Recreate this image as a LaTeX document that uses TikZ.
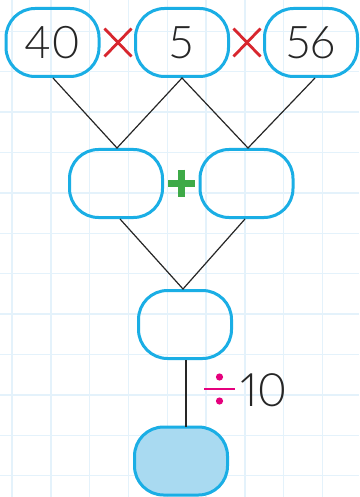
\documentclass[tikz,border=0pt]{standalone}
\usepackage{fontspec}
\setmainfont{Lato}[UprightFont=* Light,Numbers=Proportional]
\usetikzlibrary{calc}
\begin{document}
\begin{tikzpicture}[x=1pt,y=-1pt,
  box/.style={draw=boxblue,line width=3pt,rounded corners=29pt,minimum width=93pt,minimum height=68pt,inner sep=0pt,font=\fontsize{45}{45}\selectfont,text=black!85},
  conn/.style={draw=black!85,line width=1.2pt},
  gridline/.style={draw=gridblue,line width=1.4pt}]
\definecolor{boxblue}{HTML}{1AAEE5}
\definecolor{gridblue}{HTML}{E4F2FB}
\definecolor{fillblue}{HTML}{A9DAF1}
\definecolor{xred}{HTML}{D8262E}
\definecolor{pgreen}{HTML}{3EAA48}
\definecolor{dmag}{HTML}{E5007D}
\useasboundingbox (0,0) rectangle (359,497);
\fill[white] (0,0) rectangle (359,497);
\foreach \i in {0,...,8} \draw[gridline] ({12+38.8*\i},0) -- ({12+38.8*\i},497);
\foreach \j in {0,...,11} \draw[gridline] (0,{31.3+40.4*\j}) -- (359,{31.3+40.4*\j});
\node[box] (t1) at (52.5,42.5) {40};
\node[box] (t2) at (182,42.5) {5};
\node[box] (t3) at (311,42.5) {56};
\node[box] (m1) at (116,183.5) {};
\node[box] (m2) at (246.5,183.5) {};
\node[box] (c) at (185,324.5) {};
\node[box,fill=fillblue] (b) at (181,461) {};
\coordinate (t1b) at (53,78);
\coordinate (t2b) at (182,78);
\coordinate (t3b) at (315,78);
\coordinate (m1t) at (117,148);
\coordinate (m2t) at (248,148);
\coordinate (m1b) at (120,219);
\coordinate (m2b) at (245,219);
\coordinate (ct) at (183,289);
\coordinate (cb) at (186,360);
\coordinate (bt) at (186,427);
\draw[conn] (t1b) -- (m1t) -- (t2b) -- (m2t) -- (t3b);
\draw[conn] (m1b) -- (ct) -- (m2b);
\draw[conn] (cb) -- (bt);
% times signs
\foreach \cx/\nm in {118/x1,247/x2} {
  \coordinate (\nm) at (\cx,42.5);
  \draw[xred,line width=2.8pt] ($(\nm)+(-13.5,-14)$) -- ($(\nm)+(13.5,14)$);
  \draw[xred,line width=2.8pt] ($(\nm)+(-13.5,14)$) -- ($(\nm)+(13.5,-14)$);
}
% plus
\coordinate (p) at (181.5,183);
\draw[pgreen,line width=7pt] ($(p)+(-13.5,0)$) -- ($(p)+(13.5,0)$);
\draw[pgreen,line width=7pt] ($(p)+(0,-13.5)$) -- ($(p)+(0,13.5)$);
% divide
\coordinate (d) at (219.5,389);
\draw[dmag,line width=2.8pt] ($(d)+(-15.5,0)$) -- ($(d)+(15.5,0)$);
\fill[dmag] ($(d)+(0,-12)$) circle (3.6pt);
\fill[dmag] ($(d)+(0,12)$) circle (3.6pt);
\node[anchor=west,inner sep=0pt,font=\fontsize{46}{46}\selectfont,text=black!85] (ten) at (240,390) {10};
\end{tikzpicture}
\end{document}
